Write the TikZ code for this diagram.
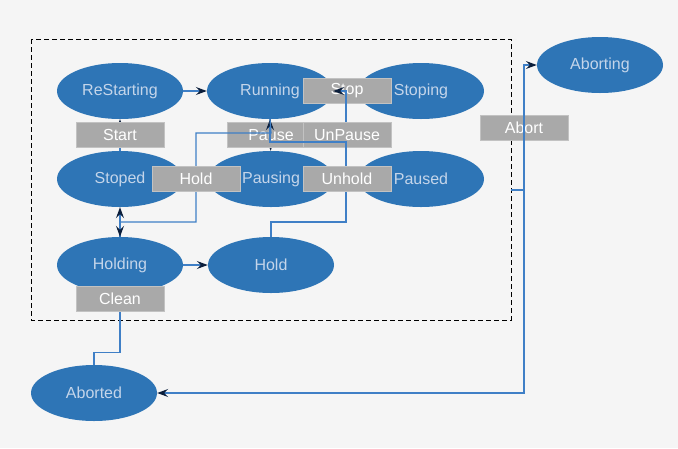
\documentclass[tikz,border=0pt]{standalone}
\usepackage{fontspec}
\setmainfont{Liberation Sans}
\usetikzlibrary{shapes.geometric,arrows.meta}
\definecolor{fondo}{HTML}{F5F5F5}
\definecolor{azulestado}{HTML}{2E75B6}
\definecolor{textoestado}{HTML}{C4D5EA}
\definecolor{linea}{HTML}{3F7FC6}
\definecolor{punta}{HTML}{0B1E3B}
\definecolor{gris}{HTML}{A9A9A9}
\definecolor{grisborde}{HTML}{C2C2C2}
\begin{document}
\begin{tikzpicture}[x=1pt,y=-1pt,
    estado/.style={ellipse, fill=azulestado, minimum width=126pt, minimum height=56pt,
      inner sep=0pt, text=textoestado, font=\fontsize{16}{19}\selectfont},
    etiqueta/.style={rectangle, fill=gris, draw=grisborde, line width=0.8pt,
      minimum width=88pt, minimum height=25pt, inner sep=0pt, text=white,
      font=\fontsize{16}{19}\selectfont},
    flecha/.style={draw=linea, line width=1.2pt,
      -{Stealth[length=11pt,width=8pt,inset=4pt,color=punta]}}]
    \fill[fondo] (0,0) rectangle (678,448);
    \draw[dash pattern=on 5pt off 3pt, line width=0.8pt] (31,39) rectangle (511,320);

    \node[estado] (restarting) at (120,91) {ReStarting};
    \node[estado] (running) at (270,91) {Running};
    \node[estado] (stoping) at (421,91) {Stoping};
    \node[estado] (stoped) at (120,179) {Stoped};
    \node[estado] (pausing) at (271,179) {Pausing};
    \node[estado] (paused) at (421,179) {Paused};
    \node[estado] (holding) at (120,265) {Holding};
    \node[estado] (hold) at (271,265) {Hold};
    \node[estado] (aborted) at (94,393) {Aborted};
    \node[estado] (aborting) at (600,65) {Aborting};
    \coordinate (grupo) at (511,190);

    % flechas que quedan debajo de las etiquetas
    \draw[flecha] (restarting) -- (running);
    \draw[flecha] (stoped) -- (restarting);
    \draw[flecha] (running) -- (pausing);
    \draw[flecha] (running) -- (stoping);
    \draw[flecha] (holding) -- (stoped);
    \draw[flecha] (holding) -- (hold);
    \draw[flecha] (aborted.north) -- ++(0,-12) -| (holding.south);

    \node[etiqueta] (lstart) at (120,135) {Start};
    \node[etiqueta] (lpause) at (271,135) {Pause};
    \node[etiqueta] (lstop) at (347,91) {Stop};
    \node[etiqueta] (lclean) at (120,299) {Clean};
    \node[etiqueta] (labort) at (524,128) {Abort};

    \draw[flecha] (hold.north) |- (346,222) -- (346,91) -- (running.east);
    \node[etiqueta] (lunpause) at (347,135) {UnPause};
    \draw[flecha] (paused.west) -- (346,179) -- (346,142) -| (running.south);
    \node[etiqueta] (lunhold) at (347,179) {Unhold};
    \draw[flecha] (running.south) -- (271,133) -| (196,222) -| (holding.north);
    \node[etiqueta] (lhold) at (196,179) {Hold};

    % salidas del grupo
    \draw[flecha] (grupo) -- (524,190) |- (aborting.west);
    \draw[flecha] (grupo) -- (524,190) |- (aborted.east);
  \end{tikzpicture}
\end{document}
